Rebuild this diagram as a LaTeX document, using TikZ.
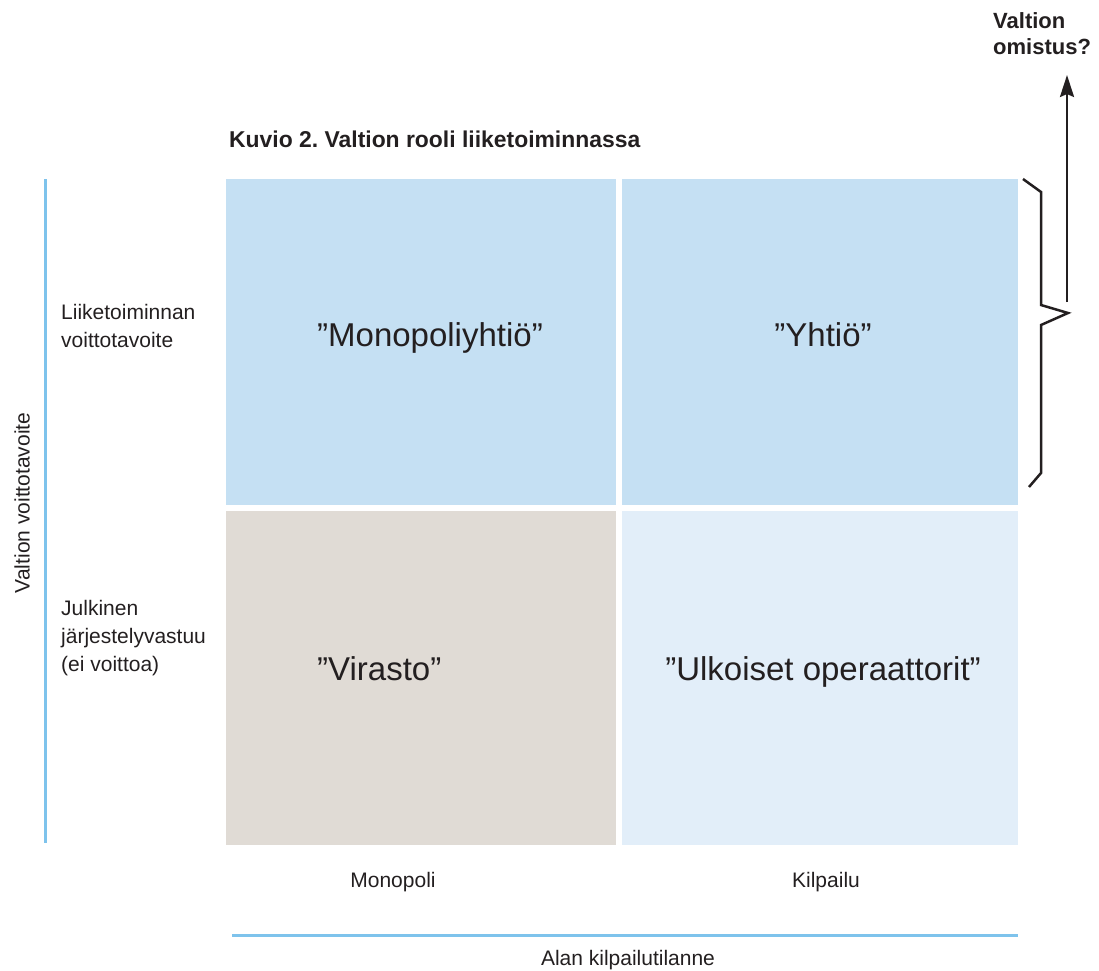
\documentclass[tikz,border=0pt]{standalone}
\usepackage{fontspec}
\setmainfont{Liberation Sans}
\usetikzlibrary{arrows.meta}
\frenchspacing

\definecolor{ink}{HTML}{231F20}
\definecolor{cellblue}{HTML}{C5E0F3}
\definecolor{cellpale}{HTML}{E2EEF9}
\definecolor{cellgrey}{HTML}{E0DBD5}
\definecolor{axisblue}{HTML}{7EC3EC}

\tikzset{
  cell/.style={draw=none, inner sep=0pt, outer sep=0pt, anchor=north west},
  celltext/.style={text=ink, inner sep=0pt, font=\fontsize{33}{40}\selectfont},
  axistext/.style={text=ink, inner sep=0pt, font=\fontsize{21}{28}\selectfont},
  boldtext/.style={text=ink, inner sep=0pt, font=\bfseries\fontsize{22}{26}\selectfont},
  axisline/.style={draw=axisblue, line width=3pt},
  bracket/.style={draw=ink, line width=2.5pt, line join=miter},
}

\begin{document}
\begin{tikzpicture}[x=1pt, y=-1pt]
  \useasboundingbox (0,0) rectangle (1099,970);

  % quadrant cells
  \node[cell, fill=cellblue, minimum width=390pt, minimum height=326pt] (ml) at (226,179) {};
  \node[cell, fill=cellblue, minimum width=396pt, minimum height=326pt] (mr) at (622,179) {};
  \node[cell, fill=cellgrey, minimum width=390pt, minimum height=334pt] (pl) at (226,511) {};
  \node[cell, fill=cellpale, minimum width=396pt, minimum height=334pt] (pr) at (622,511) {};

  % cell labels
  \node[celltext, anchor=base west] (monoyhtio) at (317,346) {”Monopoliyhtiö”};
  \node[celltext, anchor=base] (yhtio) at (823,346) {”Yhtiö”};
  \node[celltext, anchor=base west] (virasto) at (317,680) {”Virasto”};
  \node[celltext, anchor=base] (ulkoiset) at (823,680) {”Ulkoiset operaattorit”};

  % title
  \node[boldtext, anchor=base west, font=\bfseries\fontsize{22.9}{26}\selectfont] (title) at (229,147)
    {Kuvio 2. Valtion rooli liiketoiminnassa};

  % vertical axis (base of a multi-line node is its last line)
  \coordinate (vtop) at (45,179);
  \coordinate (vbot) at (45,843);
  \draw[axisline] (vtop) -- (vbot);
  \node[axistext, rotate=90] (vlabel) at (22,503) {Valtion voittotavoite};
  \node[axistext, anchor=base west, align=left] (rowtop) at (61,347)
    {Liiketoiminnan\\voittotavoite};
  \node[axistext, anchor=base west, align=left] (rowbot) at (61,671)
    {Julkinen\\järjestelyvastuu\\(ei voittoa)};

  % horizontal axis
  \coordinate (hleft) at (232,935);
  \coordinate (hright) at (1018,935);
  \draw[axisline] (hleft) -- (hright);
  \node[axistext, anchor=base] (colmono) at (393,887) {Monopoli};
  \node[axistext, anchor=base] (colkil) at (826,887) {Kilpailu};
  \node[axistext, anchor=base] (hlabel) at (628,965) {Alan kilpailutilanne};

  % brace around the upper row and ownership arrow
  \draw[bracket] (1023,179) -- (1041,192) -- (1041,305) -- (1068,313)
    -- (1041,325) -- (1041,473) -- (1029,487);
  \node[boldtext, anchor=base west, align=left] (own) at (993,54)
    {Valtion\\omistus?};
  \coordinate (arrowfoot) at (1067,302);
  \coordinate (arrowhead) at (1067,75);
  \draw[draw=ink, line width=2.5pt, -{Stealth[length=22pt, width=14pt, inset=3pt]}]
    (arrowfoot) -- (arrowhead);
\end{tikzpicture}
\end{document}
